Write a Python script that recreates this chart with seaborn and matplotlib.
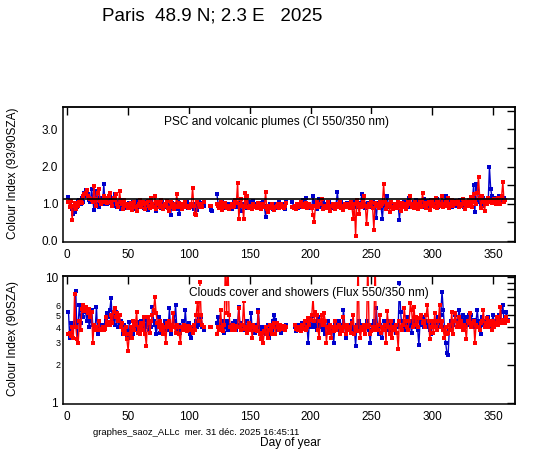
import matplotlib
matplotlib.use('Agg')
import matplotlib.pyplot as plt
from matplotlib.ticker import NullLocator
import seaborn as sns
import numpy as np
import pandas as pd

nan = np.nan

# day-by-day values (day 1 onward), nan = no measurement
# top panel: colour index 93/90 SZA
ci_sunrise = [
    1.18, 1.05, 0.95, 0.85, 0.72, 0.78, 1.00, 0.90, 1.08, 1.10,
    1.00, 1.15, 1.05, 1.30, 1.37, 1.20, 1.25, 1.10, 1.05, 1.40,
    1.10, 0.82, 1.35, 1.00, 1.33, 0.90, 1.15, 1.05, 1.00, 1.52,
    1.05, 1.10, 0.98, 1.15, 1.20, 1.02, 1.10, 0.95, 1.25, 1.05,
    0.92, 1.05, 1.00, 0.85, 1.10, 0.95, 1.02, 0.88, 1.00, 0.95,
    1.02, 0.90, 0.95, 1.05, 0.85, 1.00, 0.95, 1.08, 0.90, 1.02,
    0.95, 1.00, 0.88, 1.05, 0.95, 0.82, 1.00, 0.92, 1.05, 0.98,
    1.00, 0.92, 0.80, 1.02, 0.95, 1.00, 0.88, 1.05, 0.95, 1.00,
    0.90, 1.00, 0.95, 0.85, 0.70, 1.02, 0.92, 1.00, 0.95, 0.85,
    1.05, 0.72, 0.95, 1.00, 0.90, 0.98, 0.92, 1.05, 0.88, 0.95,
    1.00, 0.92, 0.95, 0.85, 1.00, 0.95, 0.82, 1.05, 0.92, 1.02,
    1.00, 0.95, nan, nan, nan, nan, nan, 0.82, 0.80, nan,
    nan, nan, 1.25, 1.00, 0.92, 0.95, 1.05, 0.88, 1.00, 0.92,
    0.95, 1.00, 0.90, 0.98, 0.85, 0.95, 1.05, 0.92, 1.00, 0.95,
    0.90, 1.02, 0.95, 0.80, 1.00, 0.92, 0.98, 0.88, 1.05, 0.95,
    0.90, 1.00, 1.08, 0.92, 0.95, 1.00, 0.88, 0.95, 1.02, 0.90,
    1.05, 0.95, 0.63, 0.92, 0.88, 0.95, 1.00, 0.90, 0.85, 0.95,
    1.00, 0.92, 0.88, 1.05, 0.95, 0.90, 1.00, 0.95, 0.85, 1.05,
    nan, nan, nan, nan, 1.05, 0.92, 0.95, 0.90, 1.00, 0.88,
    0.95, 1.00, 0.92, 1.10, 0.90, 1.15, 0.95, 1.00, 0.88, 0.95,
    0.92, 1.20, 0.95, 1.05, 0.85, 1.00, 1.12, 0.95, 0.90, 1.05,
    0.95, 0.90, 1.00, 0.92, 1.05, 0.95, 0.88, 1.00, 0.92, 0.95,
    1.00, 1.31, 0.92, 0.95, 1.05, 0.88, 1.00, 0.90, 0.95, 1.02,
    0.90, 1.00, 0.95, 0.88, 1.05, 0.92, 1.00, 0.95, 0.90, 1.02,
    0.95, 1.25, 0.92, 1.00, 0.88, 0.95, 1.02, 0.90, 1.00, 0.95,
    1.05, 0.92, 0.95, 0.62, 1.00, 1.02, 0.95, 0.88, 0.60, 1.05,
    0.95, 1.00, 1.22, 0.92, 0.95, 1.05, 0.90, 1.00, 0.95, 0.88,
    1.00, 0.95, 0.57, 1.02, 0.95, 0.90, 1.05, 0.95, 1.00, 0.92,
    1.15, 0.95, 1.00, 0.92, 1.05, 0.98, 1.10, 0.95, 1.02, 1.00,
    0.95, 1.05, 1.12, 0.92, 1.00, 1.08, 0.95, 1.02, 1.10, 0.98,
    1.05, 0.95, 1.00, 1.12, 0.92, 1.05, 1.00, 0.95, 1.08, 1.00,
    1.20, 1.00, 0.95, 1.05, 1.10, 0.92, 1.00, 1.08, 1.00, 0.95,
    1.05, 1.00, 1.10, 0.95, 1.02, 0.90, 1.05, 1.00, 0.95, 1.08,
    1.02, 0.95, 1.10, 1.50, 0.77, 1.52, 1.40, 1.10, 1.05, 1.00,
    0.95, 1.15, 1.05, 1.00, 1.10, 1.08, 1.98, 1.40, 1.20, 1.05,
    1.10, 1.15, 1.05, 1.10, 1.20, 1.05, 1.12, 1.08, 1.15, 1.10,
]
ci_sunset = [
    1.05, 0.92, 1.08, 0.57, 0.95, 1.02, 0.85, 1.00, 0.95, 1.05,
    1.10, 1.02, 1.20, 1.25, 1.30, 1.38, 1.22, 1.15, 1.12, 1.10,
    1.05, 1.47, 1.12, 0.95, 1.30, 1.40, 1.08, 1.00, 1.05, 1.20,
    1.15, 1.10, 1.02, 1.20, 1.30, 1.05, 0.95, 1.15, 1.10, 1.25,
    1.00, 0.90, 1.33, 1.05, 0.98, 0.85, 1.10, 0.95, 1.00, 0.88,
    0.95, 1.02, 0.82, 0.98, 1.05, 0.92, 0.80, 0.95, 1.00, 1.10,
    0.90, 1.05, 0.98, 0.85, 1.02, 1.08, 0.95, 0.88, 1.15, 1.00,
    0.92, 1.20, 0.85, 1.05, 0.98, 0.90, 1.10, 0.95, 0.85, 1.00,
    0.95, 1.08, 0.88, 0.80, 1.05, 0.92, 1.00, 0.85, 0.95, 1.25,
    0.90, 1.02, 0.95, 0.85, 1.00, 0.92, 1.05, 0.90, 0.95, 0.88,
    0.92, 1.00, 1.43, 0.95, 0.72, 0.70, 1.05, 0.98, 0.90, 1.00,
    0.92, 1.05, nan, nan, nan, nan, 0.93, 0.95, nan, nan,
    nan, nan, 1.00, 0.95, 0.88, 1.05, 0.82, 0.95, 0.90, 1.02,
    0.88, 0.95, 0.85, 0.92, 1.00, 0.90, 0.95, 1.10, 1.02, 1.57,
    0.58, 1.00, 1.12, 0.95, 0.58, 1.30, 0.90, 1.20, 0.88, 0.95,
    0.92, 0.85, 1.00, 0.90, 0.95, 0.88, 1.02, 0.92, 0.85, 1.00,
    0.95, 0.90, 1.32, 0.85, 0.78, 0.95, 0.88, 1.00, 0.92, 0.82,
    0.90, 0.95, 1.00, 0.88, 0.92, 1.00, 0.95, 0.88, 0.93, 1.02,
    nan, nan, nan, nan, 0.92, 0.88, 0.95, 0.85, 1.00, 0.90,
    0.95, 1.05, 0.98, 0.90, 0.95, 1.02, 0.88, 0.92, 1.00, 0.95,
    0.88, 0.70, 0.52, 0.95, 1.05, 0.90, 0.98, 1.00, 1.12, 0.85,
    0.92, 0.95, 0.88, 1.05, 0.90, 0.80, 0.95, 1.00, 0.92, 0.85,
    0.95, 1.00, 0.90, 1.05, 0.88, 0.95, 0.82, 1.00, 0.92, 0.98,
    0.95, 0.88, 1.05, 0.90, 0.60, 1.00, 0.12, 1.10, 0.95, 0.71,
    1.00, 0.92, 1.05, 1.20, 0.95, 0.45, 0.90, 1.00, 0.95, 1.05,
    0.88, 0.30, 1.02, 0.95, 1.00, 0.88, 1.05, 0.95, 1.00, 1.52,
    1.05, 0.85, 0.95, 1.00, 0.78, 1.05, 0.92, 0.85, 1.00, 0.95,
    0.88, 1.05, 0.95, 0.80, 1.02, 0.92, 1.00, 0.85, 0.95, 1.05,
    0.98, 1.20, 0.90, 1.00, 0.88, 1.05, 0.95, 0.85, 1.00, 1.08,
    0.92, 1.30, 0.95, 1.02, 0.88, 1.00, 1.05, 0.82, 0.95, 1.10,
    1.00, 0.92, 1.15, 0.88, 1.05, 0.95, 1.00, 1.20, 0.92, 1.00,
    1.05, 0.95, 1.15, 0.88, 1.00, 1.10, 0.95, 1.05, 0.98, 1.00,
    1.08, 0.92, 1.00, 0.95, 1.12, 1.00, 0.85, 1.05, 0.95, 1.10,
    1.00, 1.18, 0.92, 1.25, 1.05, 1.00, 1.30, 1.71, 1.15, 0.88,
    1.20, 1.05, 0.80, 1.10, 1.00, 1.15, 1.05, 1.10, 1.02, 1.08,
    1.12, 1.00, 1.05, 1.15, 1.08, 1.00, 1.20, 1.58, 1.05, 1.10,
]

# bottom panel: colour index 90 SZA (flux 550/350 nm)
flux_sunrise = [
    5.3, 3.3, 4.3, 3.4, 4.3, 4.0, 7.8, 3.2, 4.4, 6.0,
    4.3, 5.5, 4.8, 5.8, 5.3, 4.5, 5.4, 4.0, 4.5, 5.5,
    4.2, 3.8, 4.0, 5.8, 3.5, 4.2, 4.0, 3.8, 4.2, 3.8,
    4.0, 4.5, 5.2, 4.8, 5.5, 6.8, 4.5, 5.0, 4.2, 5.3,
    4.8, 4.0, 4.3, 4.5, 4.3, 3.5, 4.2, 3.8, 3.4, 3.3,
    4.4, 3.3, 4.0, 3.5, 4.2, 3.8, 4.4, 3.6, 4.3, 4.0,
    4.5, 4.3, 3.8, 4.0, 4.6, 4.2, 3.8, 4.5, 4.0, 5.8,
    4.5, 4.2, 3.5, 4.0, 4.8, 3.6, 4.2, 4.0, 3.8, 4.5,
    4.2, 3.8, 4.0, 5.7, 3.5, 4.2, 4.0, 4.5, 6.0, 4.0,
    3.8, 4.2, 3.6, 4.0, 4.5, 3.8, 5.5, 4.0, 3.8, 4.3,
    3.5, 3.3, 4.0, 3.8, 4.2, 4.5, 4.0, 4.8, 4.2, 4.8,
    4.0, 3.8, nan, nan, nan, nan, nan, nan, nan, nan,
    nan, nan, 4.3, 4.8, 3.8, 4.2, 4.5, 4.0, 3.6, 4.0,
    4.5, 3.8, 4.2, 4.0, 3.8, 4.3, 4.0, 4.5, 3.8, 4.2,
    5.8, 4.0, 4.3, 3.8, 4.2, 4.0, 3.8, 4.5, 4.2, 4.0,
    5.2, 3.8, 4.0, 3.6, 4.2, 4.0, 5.5, 4.0, 3.8, 3.3,
    3.8, 4.0, 3.5, 3.8, 4.2, 3.3, 4.0, 3.8, 4.5, 5.0,
    4.6, 4.0, 3.8, 4.2, 4.0, 3.6, 4.0, 4.1, 4.0, 4.2,
    nan, nan, nan, nan, nan, nan, 4.0, 3.7, 4.0, 4.2,
    3.8, 4.0, 4.3, 3.9, 4.0, 3.8, 4.2, 3.0, 4.5, 4.0,
    4.9, 4.2, 4.0, 4.5, 3.8, 4.8, 4.2, 4.0, 4.5, 3.8,
    4.2, 3.5, 4.0, 4.5, 3.8, 4.2, 3.8, 4.0, 3.0, 4.2,
    4.0, 3.8, 4.5, 4.2, 3.8, 4.0, 5.5, 4.2, 3.3, 4.0,
    4.2, 4.0, 3.8, 4.5, 4.0, 3.8, 2.85, 4.2, 4.0, 4.5,
    4.0, 4.2, 4.0, 3.8, 4.2, 4.5, 4.0, 3.8, 3.0, 4.2,
    4.0, 4.5, 3.8, 5.7, 4.0, 3.5, 4.2, 4.0, 3.3, 4.5,
    4.0, 4.2, 3.8, 4.5, 4.0, 4.2, 3.8, 4.5, 4.0, 3.6,
    4.2, 4.0, 9.0, 5.3, 4.0, 4.5, 3.8, 4.2, 4.8, 4.0,
    4.5, 4.2, 3.6, 4.5, 4.0, 4.2, 4.5, 3.8, 2.9, 4.5,
    4.2, 4.8, 4.0, 4.5, 4.2, 4.0, 4.5, 3.8, 3.5, 4.2,
    4.0, 4.5, 4.2, 4.0, 4.8, 4.0, 5.0, 7.7, 5.5, 4.0,
    3.0, 2.5, 2.4, 3.8, 4.5, 4.0, 4.2, 4.5, 5.0, 4.0,
    4.5, 5.5, 4.8, 4.2, 5.0, 4.5, 4.0, 4.8, 4.2, 5.0,
    4.5, 5.0, 4.2, 4.6, 4.0, 4.5, 5.5, 4.2, 4.5, 3.5,
    4.8, 4.2, 4.5, 4.0, 4.5, 4.8, 4.2, 4.0, 4.5, 5.0,
    4.3, 4.5, 4.8, 4.2, 5.0, 4.5, 5.3, 6.0, 4.5, 4.8,
    5.3, 4.6,
]
flux_sunset = [
    3.5, 3.6, 3.4, 4.0, 3.3, 7.4, 4.0, 3.2, 3.0, 4.5,
    3.8, 5.6, 6.0, 5.4, 5.8, 5.5, 5.2, 5.6, 4.8, 5.3,
    3.0, 4.2, 3.8, 4.0, 3.8, 4.5, 3.8, 3.9, 4.0, 3.8,
    3.9, 4.8, 4.2, 4.4, 4.2, 5.0, 4.3, 5.3, 5.7, 4.8,
    5.2, 4.5, 5.0, 4.0, 4.3, 3.8, 3.5, 4.0, 3.2, 2.6,
    3.5, 4.0, 3.3, 4.5, 3.8, 4.2, 5.3, 3.6, 4.0, 3.5,
    4.3, 3.8, 4.8, 3.5, 2.85, 4.8, 4.3, 3.6, 4.5, 5.0,
    5.5, 7.0, 5.2, 4.3, 4.0, 4.5, 3.8, 4.2, 3.5, 4.0,
    3.0, 4.3, 4.0, 4.5, 3.8, 4.2, 5.2, 4.0, 3.6, 4.2,
    4.0, 3.5, 3.0, 4.0, 3.8, 4.2, 4.0, 3.7, 4.1, 3.9,
    4.0, 3.8, 3.6, 4.2, 3.8, 5.0, 6.4, 4.5, 9.2, 5.0,
    4.2, 4.0, nan, nan, nan, nan, 4.0, 4.0, nan, nan,
    nan, nan, 3.5, 4.0, 3.8, 5.5, 4.0, 3.7, 4.2, 14.0,
    5.2, 14.0, 5.0, 4.0, 3.8, 4.2, 4.0, 3.8, 4.1, 4.0,
    5.7, 4.0, 3.8, 4.2, 6.5, 3.9, 4.0, 3.6, 4.3, 3.8,
    4.0, 3.3, 4.2, 3.8, 4.0, 3.7, 5.3, 3.5, 3.2, 3.6,
    3.0, 3.7, 4.0, 3.5, 3.3, 3.8, 4.2, 3.5, 4.0, 4.3,
    3.5, 4.3, 4.0, 3.8, 4.2, 4.0, 3.9, 4.1, 3.8, 4.0,
    nan, nan, nan, nan, nan, nan, 4.2, 3.9, 4.0, 3.8,
    4.0, 3.7, 4.2, 3.9, 4.5, 3.8, 4.0, 4.7, 4.2, 4.6,
    5.0, 7.0, 4.5, 5.3, 5.0, 3.8, 3.3, 4.5, 5.0, 4.2,
    5.2, 4.5, 3.0, 4.0, 3.6, 4.2, 3.3, 4.0, 3.7, 4.5,
    3.8, 4.0, 4.2, 3.5, 4.0, 3.7, 4.8, 4.0, 3.5, 4.2,
    3.8, 4.0, 3.6, 4.3, 5.0, 3.5, 4.0, 3.7, 14.0, 3.7,
    3.3, 4.0, 3.8, 4.2, 3.5, 4.0, 14.0, 4.2, 3.5, 3.7,
    4.0, 3.8, 14.0, 4.0, 3.8, 4.2, 5.0, 3.6, 4.0, 3.8,
    4.2, 3.0, 5.4, 4.0, 3.5, 4.5, 3.3, 4.0, 3.8, 4.2,
    3.6, 2.7, 4.5, 4.0, 3.8, 4.2, 5.7, 4.5, 4.0, 3.8,
    4.5, 6.2, 5.5, 4.0, 5.8, 4.2, 4.8, 4.0, 4.7, 4.7,
    5.0, 4.3, 4.5, 4.0, 5.0, 6.0, 4.5, 3.2, 4.0, 4.5,
    3.6, 5.2, 4.0, 3.8, 4.5, 6.0, 4.0, 4.5, 3.8, 3.3,
    4.0, 3.5, 3.6, 4.2, 3.8, 5.3, 3.5, 4.5, 5.2, 4.0,
    4.3, 4.8, 4.0, 4.5, 3.8, 4.2, 4.0, 3.2, 4.5, 4.3,
    5.2, 4.0, 4.3, 4.5, 3.0, 4.2, 4.0, 4.0, 3.8, 4.3,
    4.5, 5.5, 4.0, 4.3, 4.7, 4.0, 4.5, 4.2, 3.8, 4.5,
    4.0, 4.3, 4.8, 4.2, 4.5, 5.8, 4.3, 4.5, 4.6, 4.3,
    4.8, 4.5,
]

title = "Paris  48.9 N; 2.3 E   2025"
top_note = "PSC and volcanic plumes (CI 550/350 nm)"
bottom_note = "Clouds cover and showers (Flux 550/350 nm)"
top_ylabel = "Colour Index (93/90SZA)"
bottom_ylabel = "Colour Index (90SZA)"
xlabel = "Day of year"
footer = "graphes_saoz_ALLc  mer. 31 déc. 2025 16:45:11"
day_ticks = [0, 50, 100, 150, 200, 250, 300, 350]

colors = {'sunrise': '#0000cc', 'sunset': '#ff0000'}


def to_frame(values, name):
    v = np.asarray(values, dtype=float)
    seg = np.cumsum(np.isnan(v))
    df = pd.DataFrame({'day': np.arange(1, len(v) + 1), 'value': v, 'series': name})
    df['seg'] = [f'{name}_{s}' for s in seg]
    return df.dropna()


def draw(ax, df):
    sns.lineplot(data=df, x='day', y='value', hue='series',
                 hue_order=['sunrise', 'sunset'], palette=colors,
                 units='seg', estimator=None, sort=False, legend=False,
                 marker='s', markersize=3.4, markeredgewidth=0,
                 linewidth=1.0, ax=ax)


def frame(ax, right_ticks, left_len):
    ax.set_xlim(-3.5, 368)
    ax.set_xticks(day_ticks)
    ax.set_xlabel('')
    ax.set_ylabel('')
    ax.tick_params(axis='x', direction='in', length=6, width=1, labelsize=8.5, pad=5)
    ax.tick_params(axis='y', which='major', direction='in', length=left_len, width=1,
                   labelsize=8.5, pad=3.5)
    for sp in ax.spines.values():
        sp.set_visible(True)
        sp.set_color('black')
        sp.set_linewidth(1.1)
    top = ax.secondary_xaxis('top')
    top.set_xticks(day_ticks)
    top.tick_params(direction='in', length=6, width=1, labeltop=False)
    top.spines['top'].set_linewidth(1.1)
    right = ax.secondary_yaxis('right')
    right.set_yticks(right_ticks)
    right.yaxis.set_minor_locator(NullLocator())
    right.tick_params(direction='in', length=6, width=1, labelright=False)
    right.spines['right'].set_linewidth(1.1)


sns.set_style('white')
plt.rcParams['font.family'] = ['Liberation Sans', 'DejaVu Sans']
plt.rcParams['text.color'] = 'black'
plt.rcParams['xtick.color'] = 'black'
plt.rcParams['ytick.color'] = 'black'

fig = plt.figure(figsize=(5.47, 4.55), dpi=100)
ax1 = fig.add_axes([0.1152, 0.4681, 0.8263, 0.2967])
ax2 = fig.add_axes([0.1152, 0.1121, 0.8263, 0.2820])

top_df = pd.concat([to_frame(ci_sunrise, 'sunrise'), to_frame(ci_sunset, 'sunset')])
bot_df = pd.concat([to_frame(flux_sunrise, 'sunrise'), to_frame(flux_sunset, 'sunset')])

draw(ax1, top_df)
ax1.axhline(1.12, color='black', lw=1.2, zorder=4)
ax1.set_ylim(-0.03, 3.6)
ax1.set_yticks([0, 1, 2, 3])
ax1.set_yticklabels(['0.0', '1.0', '2.0', '3.0'])
frame(ax1, list(np.arange(0, 3.51, 0.5)), 0)

ax2.set_yscale('log')
draw(ax2, bot_df)
ax2.set_ylim(0.975, 10.3)
ax2.set_yticks([1, 10])
ax2.set_yticklabels(['1', '10'])
ax2.set_yticks([2, 3, 4, 5, 6], minor=True)
ax2.set_yticklabels(['2', '3', '4', '5', '6'], minor=True)
ax2.tick_params(axis='y', which='minor', labelsize=6.5, length=0, pad=1.5)
frame(ax2, [1, 2, 3, 4, 5, 6, 7, 8, 9, 10], 4)

ax1.text(0.2235, 0.891, top_note, transform=ax1.transAxes, fontsize=8.6,
         va='center', ha='left', zorder=6,
         bbox=dict(facecolor='white', edgecolor='none', pad=1))
ax2.text(0.279, 0.863, bottom_note, transform=ax2.transAxes, fontsize=8.6,
         va='center', ha='left', zorder=6,
         bbox=dict(facecolor='white', edgecolor='none', pad=1))

fig.text(0.186, 0.965, title, fontsize=13.5, ha='left', va='center')
fig.text(0.0238, 0.6187, top_ylabel, rotation=90, fontsize=8.6, ha='center', va='center')
fig.text(0.0238, 0.256, bottom_ylabel, rotation=90, fontsize=8.6, ha='center', va='center')
fig.text(0.170, 0.0484, footer, fontsize=6.8, ha='left', va='center')
fig.text(0.4753, 0.027, xlabel, fontsize=8.6, ha='left', va='center')

fig.savefig('out.png', dpi=100, facecolor='white')
